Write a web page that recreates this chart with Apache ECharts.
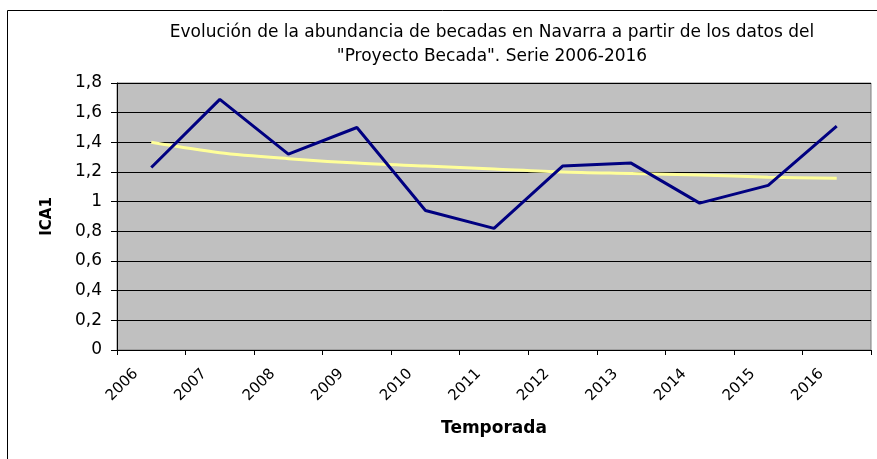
<!DOCTYPE html>
<html>
<head>
<meta charset="utf-8">
<script src="https://cdn.jsdelivr.net/npm/echarts@6/dist/echarts.min.js"></script>
<style>
  html, body { margin: 0; padding: 0; background: #fff; }
  #chart { width: 877px; height: 459px; }
</style>
</head>
<body>
<div id="chart"></div>
<script>
var seasons = ['2006', '2007', '2008', '2009', '2010', '2011', '2012', '2013', '2014', '2015', '2016'];
// ICA1 per season
var ica1 = [1.23, 1.69, 1.32, 1.50, 0.94, 0.82, 1.24, 1.26, 0.99, 1.11, 1.51];
// trend line as drawn in the picture
var trend = [1.40, 1.33, 1.29, 1.26, 1.24, 1.22, 1.20, 1.19, 1.18, 1.165, 1.158];

var font = 'DejaVu Sans';

var chart = echarts.init(document.getElementById('chart'));

chart.setOption({
    animation: false,
    backgroundColor: '#ffffff',
    title: {
        text: 'Evolución de la abundancia de becadas en Navarra a partir de los datos del\n"Proyecto Becada". Serie 2006-2016',
        left: 487,
        textAlign: 'center',
        top: 16,
        textStyle: { fontFamily: font, fontSize: 17, fontWeight: 'normal', color: '#000', lineHeight: 24 }
    },
    graphic: [{
        type: 'rect',
        shape: { x: 7.5, y: 10.5, width: 900, height: 500 },
        style: { fill: 'none', stroke: '#000', lineWidth: 1 },
        silent: true
    }],
    grid: {
        left: 117, top: 83, right: 6, bottom: 109,
        show: true, backgroundColor: '#C0C0C0', borderColor: '#808080', borderWidth: 1
    },
    xAxis: {
        type: 'category',
        data: seasons,
        boundaryGap: true,
        name: 'Temporada',
        nameLocation: 'middle',
        nameGap: 70,
        nameTextStyle: { fontFamily: font, fontSize: 17, fontWeight: 'bold', color: '#000' },
        axisLine: { lineStyle: { color: '#000', width: 1 } },
        axisTick: { show: true, inside: false, length: 5, lineStyle: { color: '#000' } },
        axisLabel: {
            rotate: 45, interval: 0, margin: 6, padding: [0, 22, 0, 0],
            fontFamily: font, fontSize: 15, color: '#000'
        },
        splitLine: { show: false }
    },
    yAxis: {
        type: 'value',
        min: 0, max: 1.8, interval: 0.2,
        name: 'ICA1',
        nameLocation: 'middle',
        nameGap: 62,
        nameRotate: 90,
        nameTextStyle: { fontFamily: font, fontSize: 15, fontWeight: 'bold', color: '#000' },
        axisLine: { show: true, lineStyle: { color: '#000', width: 1 } },
        axisTick: { show: true, inside: false, length: 6, lineStyle: { color: '#000' } },
        axisLabel: {
            margin: 15, fontFamily: font, fontSize: 17, color: '#000',
            formatter: function (v) { return String(Math.round(v * 10) / 10).replace('.', ','); }
        },
        splitLine: { show: true, lineStyle: { color: '#000', width: 1 } }
    },
    series: [{
        name: 'ICA1',
        type: 'line',
        data: ica1,
        showSymbol: false,
        lineStyle: { color: '#000080', width: 3 },
        itemStyle: { color: '#000080' },
        z: 3
    }, {
        name: 'Tendencia',
        type: 'line',
        data: trend,
        smooth: 0.3,
        showSymbol: false,
        lineStyle: { color: '#FFFF99', width: 3 },
        itemStyle: { color: '#FFFF99' },
        z: 2
    }]
});
</script>
</body>
</html>
